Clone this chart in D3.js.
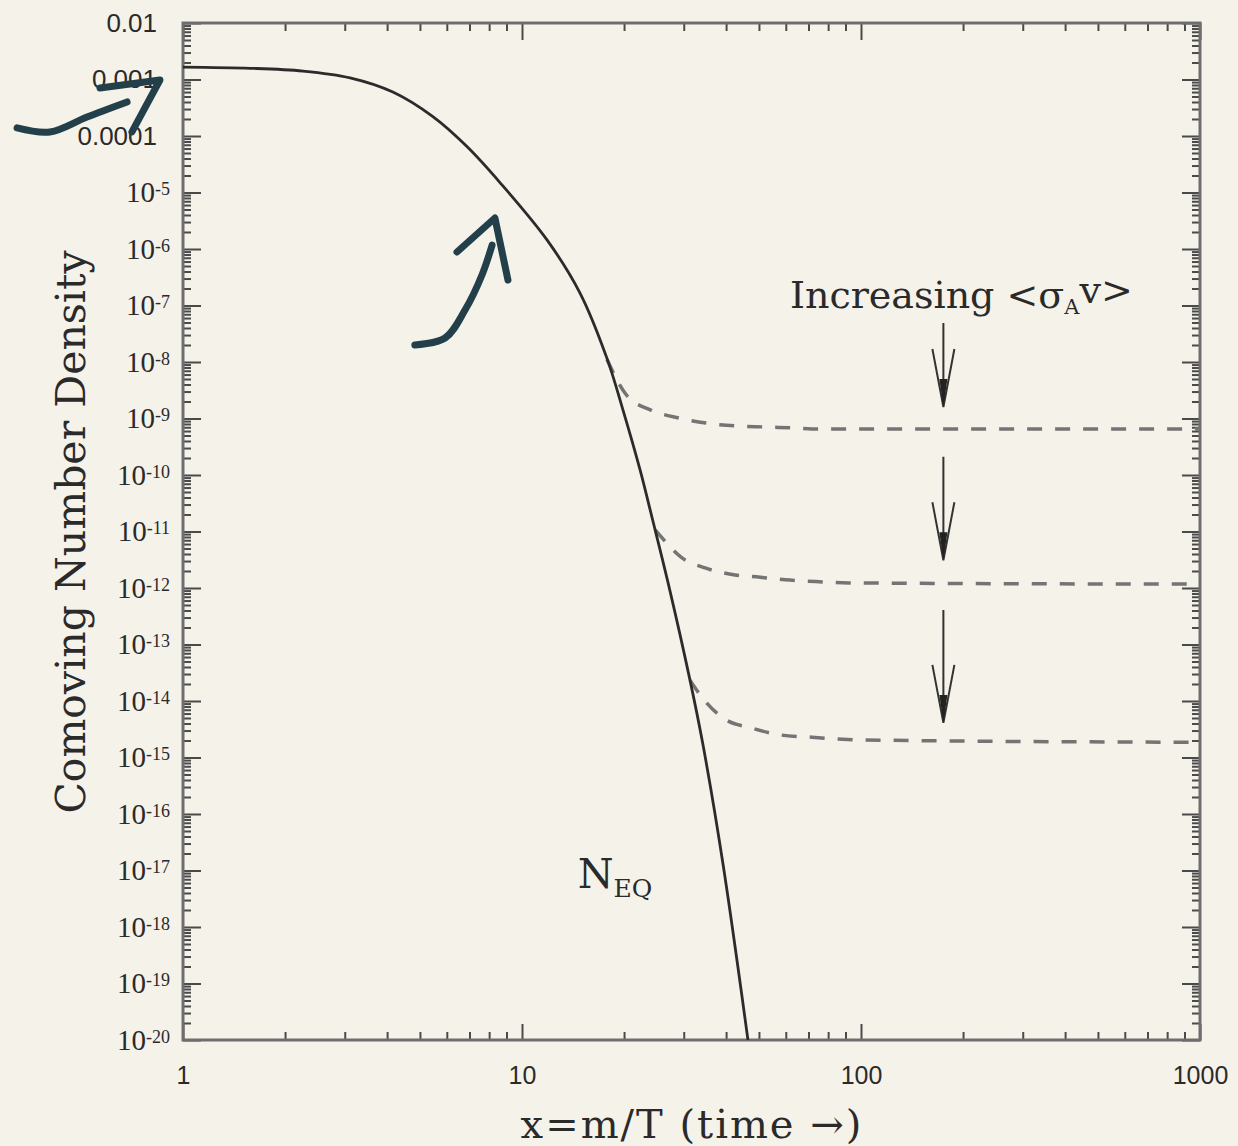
<!DOCTYPE html>
<html>
<head>
<meta charset="utf-8">
<script src="https://cdn.jsdelivr.net/npm/d3@7"></script>
<style>
  body { margin: 0; background: #f5f2ea; }
  svg { display: block; }
</style>
</head>
<body>
<script>
// equilibrium curve N_EQ (x = m/T, comoving number density)
var eqX = [1, 1.58, 2.26, 3.11, 4.16, 5.46, 6.88, 8.61, 11.85, 14.83, 17.8, 19.86, 22.3, 24.3, 27.3, 31.3, 34.2, 39.2, 46.4];
var eqY = [1.66e-3, 1.58e-3, 1.41e-3, 1.07e-3, 6.0e-4, 2.2e-4, 6.5e-5, 1.5e-5, 1.45e-6, 1.66e-7, 1.17e-8, 1.41e-9, 1.23e-10, 1.58e-11, 9.1e-13, 2.34e-14, 1.66e-15, 1.26e-17, 1e-20];

// freeze-out curves (dashed), smallest to largest <sigma v>
var fo1X = [17.8, 20.3, 24.0, 29.0, 34.9, 42.5, 51.4, 63.4, 75.2, 1000];
var fo1Y = [1.12e-8, 2.63e-9, 1.41e-9, 1.02e-9, 8.3e-10, 7.4e-10, 7.1e-10, 6.8e-10, 6.5e-10, 6.5e-10];
var fo2X = [24.7, 26.2, 29.4, 34.9, 42.5, 50.4, 61.7, 75.2, 92.2, 1000];
var fo2Y = [1.07e-11, 7.1e-12, 3.55e-12, 2.24e-12, 1.70e-12, 1.55e-12, 1.38e-12, 1.29e-12, 1.23e-12, 1.17e-12];
var fo3X = [31.3, 34.4, 39.2, 47.7, 58.1, 70.2, 84.4, 102.8, 1000];
var fo3Y = [2.34e-14, 1.05e-14, 5.0e-15, 3.3e-15, 2.5e-15, 2.3e-15, 2.14e-15, 2.04e-15, 1.86e-15];

// "increasing <sigma v>" arrows
var arrowX = [175, 175, 175];
var arrowFrom = [4.9e-8, 2.1e-10, 4.1e-13];
var arrowTo = [1.6e-9, 3.1e-12, 4.1e-15];

// tick labels
var xTickValues = [1, 10, 100, 1000];
var yTickExp = d3.range(-2, -21, -1);
var yDecimalLabels = ["0.01", "0.001", "0.0001"];

// hand drawn marks on the slide (data units)
var hand1Tail = [[0.324, 1.39e-4], [0.405, 1.18e-4], [0.521, 2.17e-4], [0.684, 4.0e-4]];
var hand1Head = [[0.569, 7.08e-4], [0.855, 9.8e-4], [0.707, 1.18e-4]];
var hand2Tail = [[4.83, 2.0e-8], [5.93, 2.66e-8], [6.79, 8.3e-8], [7.62, 3.47e-7], [8.16, 1.17e-6]];
var hand2Head = [[6.43, 8.85e-7], [8.32, 3.54e-6], [9.09, 2.83e-7]];

var width = 1238, height = 1146;
var margin = {top: 23, right: 38, bottom: 106, left: 183};

var x = d3.scaleLog().domain([1, 1000]).range([margin.left, width - margin.right]);
var y = d3.scaleLog().domain([1e-20, 1e-2]).range([height - margin.bottom, margin.top]);

var svg = d3.select("body").append("svg")
    .attr("width", width)
    .attr("height", height)
    .style("background", "#f5f2ea");

svg.append("defs").append("clipPath").attr("id", "plot")
    .append("rect")
    .attr("x", margin.left).attr("y", margin.top)
    .attr("width", x.range()[1] - margin.left)
    .attr("height", y.range()[0] - margin.top);

// minor tick values
var xMinor = [];
[1, 10, 100].forEach(function(d) { for (var k = 2; k <= 9; k++) xMinor.push(k * d); });
var yMajor = yTickExp.map(function(e) { return Math.pow(10, e); });
var yMinor = [];
yTickExp.slice(1).forEach(function(e) { for (var k = 2; k <= 9; k++) yMinor.push(k * Math.pow(10, e)); });

function styleAxis(g) {
    g.select(".domain").remove();
    g.selectAll(".tick line").attr("stroke", "#4a4a4a").attr("stroke-width", 2);
}

var bottom = y.range()[0], right = x.range()[1];

// bottom axis
svg.append("g").attr("transform", "translate(0," + bottom + ")")
    .call(d3.axisBottom(x).tickValues(xMinor).tickSize(-8).tickFormat(""))
    .call(styleAxis);
var gx = svg.append("g").attr("transform", "translate(0," + bottom + ")")
    .call(d3.axisBottom(x).tickValues(xTickValues).tickSize(-16).tickPadding(26).tickFormat(d3.format("d")))
    .call(styleAxis);
gx.selectAll(".tick text")
    .style("font-family", "Liberation Sans, Arial, sans-serif")
    .style("font-size", "25px")
    .attr("fill", "#2a2a2a");

// top axis
svg.append("g").attr("transform", "translate(0," + margin.top + ")")
    .call(d3.axisTop(x).tickValues(xMinor).tickSize(-8).tickFormat(""))
    .call(styleAxis);
svg.append("g").attr("transform", "translate(0," + margin.top + ")")
    .call(d3.axisTop(x).tickValues(xTickValues).tickSize(-17).tickFormat(""))
    .call(styleAxis);

// left axis
svg.append("g").attr("transform", "translate(" + margin.left + ",0)")
    .call(d3.axisLeft(y).tickValues(yMinor).tickSize(-8).tickFormat(""))
    .call(styleAxis);
var gy = svg.append("g").attr("transform", "translate(" + margin.left + ",0)")
    .call(d3.axisLeft(y).tickValues(yMajor).tickSize(-18).tickPadding(13).tickFormat(""))
    .call(styleAxis);

gy.selectAll(".tick text").each(function(d, i) {
    var t = d3.select(this).attr("fill", "#2a2a2a");
    var e = yTickExp[i];
    if (e >= -4) {
        t.attr("x", -26)
            .style("font-family", "Liberation Sans, Arial, sans-serif")
            .style("font-size", "26px")
            .text(yDecimalLabels[i]);
    } else {
        t.style("font-family", "Liberation Serif, serif").style("font-size", "29px");
        t.append("tspan").text("10");
        t.append("tspan").attr("dy", "-0.4em").style("font-size", "18px").text("-" + (-e));
    }
});

// right axis
svg.append("g").attr("transform", "translate(" + right + ",0)")
    .call(d3.axisRight(y).tickValues(yMinor).tickSize(-8).tickFormat(""))
    .call(styleAxis);
svg.append("g").attr("transform", "translate(" + right + ",0)")
    .call(d3.axisRight(y).tickValues(yMajor).tickSize(-18).tickFormat(""))
    .call(styleAxis);

// frame
svg.append("rect")
    .attr("x", margin.left).attr("y", margin.top)
    .attr("width", right - margin.left)
    .attr("height", bottom - margin.top)
    .attr("fill", "none")
    .attr("stroke", "#6e6e6e")
    .attr("stroke-width", 3);

var line = d3.line()
    .x(function(d) { return x(d[0]); })
    .y(function(d) { return y(d[1]); })
    .curve(d3.curveMonotoneX);

var plot = svg.append("g").attr("clip-path", "url(#plot)");

// dashed freeze-out curves
[[fo1X, fo1Y], [fo2X, fo2Y], [fo3X, fo3Y]].forEach(function(s) {
    plot.append("path")
        .datum(d3.zip(s[0], s[1]))
        .attr("d", line)
        .attr("fill", "none")
        .attr("stroke", "#747474")
        .attr("stroke-width", 3.5)
        .attr("stroke-dasharray", "15,13");
});

// equilibrium curve
plot.append("path")
    .datum(d3.zip(eqX, eqY))
    .attr("d", line.curve(d3.curveCatmullRom.alpha(0.5)))
    .attr("fill", "none")
    .attr("stroke", "#2b2b2b")
    .attr("stroke-width", 2.8);

// arrows
var arrows = svg.selectAll(".arrow")
    .data(d3.range(arrowX.length))
    .enter().append("g")
    .attr("class", "arrow");

arrows.append("path")
    .attr("d", function(i) {
        var px = x(arrowX[i]), y0 = y(arrowFrom[i]), y1 = y(arrowTo[i]);
        return "M" + px + "," + y0 + "V" + y1 +
            "M" + (px - 11) + "," + (y1 - 58) + "L" + px + "," + y1 + "L" + (px + 11) + "," + (y1 - 58);
    })
    .attr("fill", "none")
    .attr("stroke", "#333")
    .attr("stroke-width", 2);

arrows.append("path")
    .attr("d", function(i) {
        var px = x(arrowX[i]), y1 = y(arrowTo[i]);
        return "M" + px + "," + y1 + "L" + (px - 4) + "," + (y1 - 28) + "L" + (px + 4) + "," + (y1 - 28) + "Z";
    })
    .attr("fill", "#222");

// "Increasing <sigma_A v>" label
var inc = svg.append("text")
    .attr("x", x(61.7))
    .attr("y", y(9.1e-8))
    .style("font-family", "DejaVu Serif, serif")
    .style("font-size", "38px")
    .attr("fill", "#2a2a2a");
inc.append("tspan").text("Increasing <\u03c3");
inc.append("tspan").attr("dy", "0.3em").style("font-size", "21px").text("A");
inc.append("tspan").attr("dy", "-0.3em").text("v>");

// N_EQ label
var neq = svg.append("text")
    .attr("x", x(14.6))
    .attr("y", y(4.9e-18))
    .style("font-family", "DejaVu Serif, serif")
    .style("font-size", "41px")
    .attr("fill", "#2a2a2a");
neq.append("tspan").text("N");
neq.append("tspan").attr("dy", "0.36em").style("font-size", "25px").text("EQ");

// axis titles
svg.append("text")
    .attr("transform", "translate(85,532) rotate(-90)")
    .attr("text-anchor", "middle")
    .style("font-family", "DejaVu Serif, serif")
    .style("font-size", "41px")
    .attr("fill", "#2a2a2a")
    .text("Comoving Number Density");

svg.append("text")
    .attr("x", 692)
    .attr("y", 1138)
    .attr("text-anchor", "middle")
    .style("font-family", "DejaVu Serif, serif")
    .style("font-size", "40px")
    .style("letter-spacing", "2px")
    .attr("fill", "#2a2a2a")
    .text("x=m/T (time \u2192)");

// hand drawn arrows
var hand = d3.line()
    .x(function(d) { return x(d[0]); })
    .y(function(d) { return y(d[1]); });

[[hand1Tail, d3.curveCatmullRom], [hand1Head, d3.curveLinear], [hand2Tail, d3.curveCatmullRom], [hand2Head, d3.curveLinear]].forEach(function(h) {
    svg.append("path")
        .datum(h[0])
        .attr("d", hand.curve(h[1]))
        .attr("fill", "none")
        .attr("stroke", "#23404a")
        .attr("stroke-width", 7)
        .attr("stroke-linecap", "round")
        .attr("stroke-linejoin", "round");
});
</script>
</body>
</html>
